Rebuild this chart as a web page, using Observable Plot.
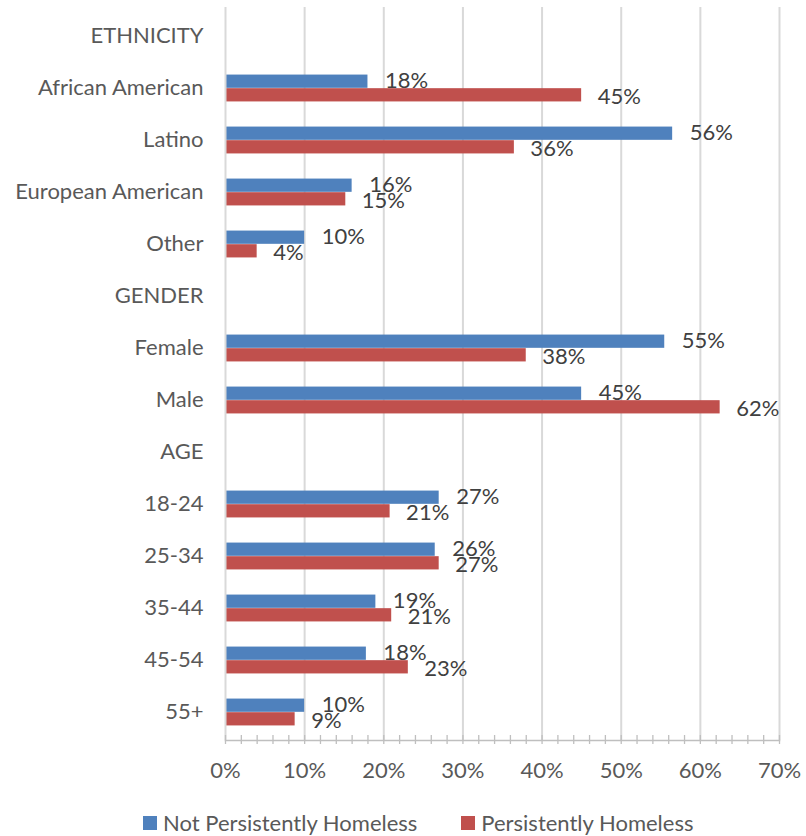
<!DOCTYPE html>
<html>
<head>
<meta charset="utf-8">
<script src="https://cdn.jsdelivr.net/npm/d3@7"></script>
<script src="https://cdn.jsdelivr.net/npm/@observablehq/plot@0.6"></script>
<style>
  body { margin: 0; background: #fff; font-family: Lato, "Open Sans", sans-serif; }
  #chart { width: 806px; }
  .legend { display: flex; justify-content: flex-start; margin-top: 21px; font-size: 22px; color: #595959; line-height: 24px; }
  .legend .item { display: flex; align-items: center; }
  .legend .sw { width: 14px; height: 14px; display: inline-block; margin-right: 6px; }
</style>
</head>
<body>
<div id="chart"></div>
<script>
const categories = ["ETHNICITY", "African American", "Latino", "European American", "Other",
  "GENDER", "Female", "Male",
  "AGE", "18-24", "25-34", "35-44", "45-54", "55+"];
const barCategories = ["African American", "Latino", "European American", "Other",
  "Female", "Male", "18-24", "25-34", "35-44", "45-54", "55+"];
const notPersistent = [0.18, 0.565, 0.16, 0.10, 0.555, 0.45, 0.27, 0.265, 0.19, 0.178, 0.10];
const persistent    = [0.45, 0.365, 0.152, 0.04, 0.38, 0.625, 0.208, 0.27, 0.21, 0.231, 0.088];
const notLabels = ["18%", "56%", "16%", "10%", "55%", "45%", "27%", "26%", "19%", "18%", "10%"];
const perLabels = ["45%", "36%", "15%", "4%", "38%", "62%", "21%", "27%", "21%", "23%", "9%"];
const seriesNames = ["Not Persistently Homeless", "Persistently Homeless"];
const colors = ["#4F81BD", "#C0504D"];
const majorTicks = [0, 0.1, 0.2, 0.3, 0.4, 0.5, 0.6, 0.7];
const minorTicks = d3.range(0, 36).map(i => i * 0.02);

const blue = barCategories.map((c, i) => ({cat: c, v: notPersistent[i], label: notLabels[i]}));
const red = barCategories.map((c, i) => ({cat: c, v: persistent[i], label: perLabels[i]}));

const width = 806, height = 790;
const marginTop = 7, marginBottom = 50, marginLeft = 225, marginRight = 27;
const step = (height - marginTop - marginBottom) / categories.length;
const half = step * 0.5;
const outer = step * 0.24;

const chart = Plot.plot({
  width, height, marginTop, marginBottom, marginLeft, marginRight,
  style: {fontFamily: "Lato, 'Open Sans', sans-serif", fontSize: "22px", background: "#fff"},
  x: {domain: [0, 0.7]},
  y: {domain: categories, padding: 0},
  marks: [
    Plot.ruleX(majorTicks.slice(1), {stroke: "#d9d9d9", strokeWidth: 2}),
    Plot.barX(blue, {x: "v", y: "cat", fill: colors[0], insetTop: outer, insetBottom: half}),
    Plot.barX(red, {x: "v", y: "cat", fill: colors[1], insetTop: half, insetBottom: outer}),
    Plot.text(blue, {x: "v", y: "cat", text: "label", textAnchor: "start", dx: 17, dy: -step * 0.14, fill: "#404040"}),
    Plot.text(red, {x: "v", y: "cat", text: "label", textAnchor: "start", dx: 16, dy: step * 0.16, fill: "#404040"}),
    Plot.ruleX([0], {stroke: "#d9d9d9", strokeWidth: 2}),
    Plot.frame({anchor: "bottom", stroke: "#bfbfbf", strokeWidth: 1.5}),
    Plot.axisX({ticks: minorTicks, tickSize: 9, dy: -5, tickFormat: () => "", stroke: "#bfbfbf", strokeWidth: 1.3, label: null}),
    Plot.axisX({ticks: majorTicks, tickSize: 0, tickPadding: 22, tickFormat: d => Math.round(d * 100) + "%", fill: "#595959", label: null}),
    Plot.axisY({tickSize: 0, tickPadding: 22, fill: "#595959", label: null, dy: -1})
  ]
});
document.getElementById("chart").appendChild(chart);

const legend = document.createElement("div");
legend.className = "legend";
seriesNames.forEach((name, i) => {
  const item = document.createElement("div");
  item.className = "item";
  item.style.marginLeft = i === 0 ? "143px" : "44px";
  const sw = document.createElement("span");
  sw.className = "sw";
  sw.style.background = colors[i];
  item.appendChild(sw);
  item.appendChild(document.createTextNode(name));
  legend.appendChild(item);
});
document.getElementById("chart").appendChild(legend);
</script>
</body>
</html>
